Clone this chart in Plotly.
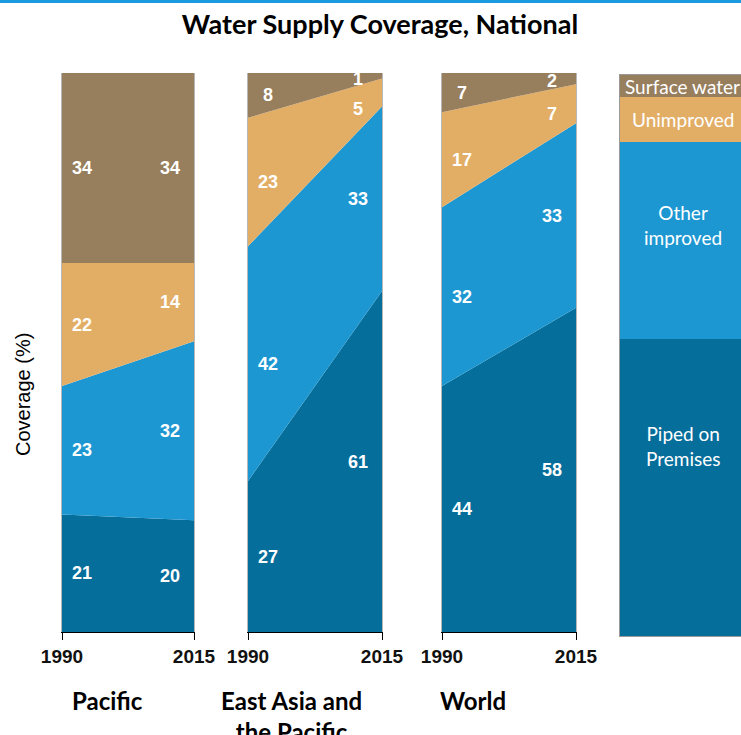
import plotly.graph_objects as go

# 資料
years = [1990, 2015]
regions = ["Pacific", "East Asia and<br>the Pacific", "World"]
categories = ["Piped on Premises", "Other improved", "Unimproved", "Surface water"]
colors = ["#066e9b", "#1d97d2", "#e2ae66", "#977e5d"]

piped = [[21, 20], [27, 61], [44, 58]]
other_improved = [[23, 32], [42, 33], [32, 33]]
unimproved = [[22, 14], [23, 5], [17, 7]]
surface = [[34, 34], [8, 1], [7, 2]]

legend_labels = ["Piped on<br>Premises", "Other<br>improved", "Unimproved", "Surface water"]
legend_values = [53, 35, 8, 4]

W, H = 741, 735
series = [piped, other_improved, unimproved, surface]

# 版面位置 (像素)
panel_x = [(62, 194), (248, 382), (442, 576)]
panel_top, panel_bottom = 73, 632
title_x = [107, 291, 473]
label_years = [1993.75, 2010.5]
legend_text_frac = [0.64, 0.58, 0.5, 0.5]  # 圖例文字在各段中的相對高度

num_font = dict(family="Liberation Sans, Arial", size=18, color="white", weight="bold")
fig = go.Figure()
layout_axes = {}
annotations = []

for i in range(3):
    n = "" if i == 0 else str(i + 1)
    for k in range(4):
        fig.add_trace(go.Scatter(
            x=years, y=series[k][i], stackgroup=f"g{i}", mode="lines",
            line=dict(width=0), fillcolor=colors[k],
            xaxis=f"x{n}", yaxis=f"y{n}", showlegend=False, hoverinfo="skip"))
    # 數字標籤：窄帶取標籤位置的內插中點，其餘取端點中點
    for j, xl in enumerate(label_years):
        t = (xl - years[0]) / (years[1] - years[0])
        base0 = base1 = 0
        for k in range(4):
            v0, v1 = series[k][i]
            v = series[k][i][j]
            if v < 10 and j == 1:
                y = (base0 + (base1 - base0) * t) + (v0 + (v1 - v0) * t) / 2
            else:
                y = (base0 if j == 0 else base1) + v / 2
            annotations.append(dict(
                x=xl, y=y, xref=f"x{n}", yref=f"y{n}", text=str(v),
                showarrow=False, font=num_font))
            base0 += v0
            base1 += v1
    x0, x1 = panel_x[i]
    layout_axes[f"xaxis{n}"] = dict(
        domain=[x0 / W, x1 / W], range=[1990, 2015], tickvals=years,
        ticks="outside", ticklen=7, tickcolor="black", showline=True,
        linecolor="black", linewidth=1, showgrid=False, zeroline=False,
        tickfont=dict(family="Liberation Sans, Arial", size=19, color="#111", weight="bold"),
        anchor=f"y{n}", fixedrange=True, automargin=False)
    layout_axes[f"yaxis{n}"] = dict(
        domain=[1 - panel_bottom / H, 1 - panel_top / H], range=[0, 100],
        showticklabels=False, showgrid=False, zeroline=False, ticks="",
        showline=True, mirror=True, linecolor="#b8b8b8", linewidth=1,
        anchor=f"x{n}", fixedrange=True, automargin=False)
    annotations.append(dict(
        x=title_x[i] / W, y=1 - 684 / H, xref="paper", yref="paper",
        text=f"<b>{regions[i]}</b>", showarrow=False, xanchor="center", yanchor="top",
        font=dict(family="Lato", size=24, color="black")))

# 右側圖例長條
base = 0
for k in range(4):
    fig.add_trace(go.Bar(
        x=[0.52], y=[legend_values[k]], width=[1.04], marker_color=colors[k],
        marker_line_width=0, xaxis="x4", yaxis="y4", showlegend=False, hoverinfo="skip"))
    annotations.append(dict(
        x=0.52, y=base + legend_values[k] * legend_text_frac[k],
        xref="x4", yref="y4", text=legend_labels[k], showarrow=False,
        font=dict(family="Lato", size=19, color="white")))
    base += legend_values[k]

layout_axes["xaxis4"] = dict(domain=[620 / W, 1], range=[0, 1], visible=True,
                             showticklabels=False, ticks="", showgrid=False, zeroline=False,
                             showline=True, mirror=True, linecolor="#999", anchor="y4",
                             automargin=False, fixedrange=True)
layout_axes["yaxis4"] = dict(domain=[1 - 636 / H, 1 - 75 / H], range=[0, 100],
                             showticklabels=False, ticks="", showgrid=False, zeroline=False,
                             showline=True, linecolor="#999", anchor="x4", automargin=False,
                             fixedrange=True)

annotations.append(dict(
    x=23 / W, y=1 - 395 / H, xref="paper", yref="paper", text="Coverage (%)",
    textangle=-90, showarrow=False, xanchor="center", yanchor="middle",
    font=dict(family="Liberation Sans, Arial", size=20, color="black")))

fig.update_layout(
    width=W, height=H, margin=dict(l=0, r=0, t=0, b=0, pad=0, autoexpand=False),
    paper_bgcolor="white", plot_bgcolor="white", barmode="stack", bargap=0,
    title=dict(text="<b>Water Supply Coverage, National</b>", x=380 / W, xanchor="center",
               y=1 - 25 / H, yanchor="middle",
               font=dict(family="Lato", size=27, color="black")),
    annotations=annotations,
    shapes=[dict(type="line", xref="paper", yref="paper", x0=0, x1=1,
                 y0=1 - 1.5 / H, y1=1 - 1.5 / H, line=dict(color="#1a9be0", width=3))],
    **layout_axes,
)

# 去掉頁面預設邊距，讓圖貼齊視窗左上角
fig.write_html("out.html", config={"displayModeBar": False},
               post_script="document.body.style.margin='0';")
